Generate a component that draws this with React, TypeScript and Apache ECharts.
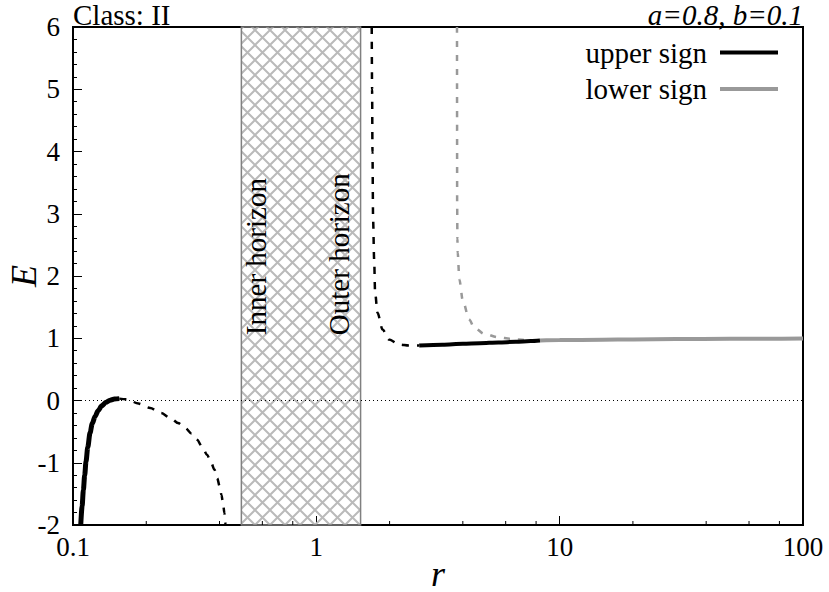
import React, { useEffect, useRef } from 'react';
import * as echarts from 'echarts';

const FONT = 'Liberation Serif';

// axis ranges and tick values
const xMin = 0.1;
const xMax = 100;
const yMin = -2;
const yMax = 6;
const xMinorTicks = [0.2, 0.4, 0.6, 0.8, 2, 4, 6, 8, 20, 40, 60, 80];

// upper sign, left branch (solid)
const upperLeftSolid: [number, number][] = [
  [0.1076, -2.0], [0.109, -1.7], [0.1103, -1.44], [0.1117, -1.2], [0.1131, -0.98],
  [0.115, -0.75], [0.1175, -0.52], [0.12, -0.37], [0.1232, -0.256], [0.127, -0.16],
  [0.1313, -0.084], [0.1365, -0.03], [0.142, 0.005], [0.148, 0.025], [0.155, 0.03],
];
// upper sign, left branch (dashed)
const upperLeftDashed: [number, number][] = [
  [0.155, 0.03], [0.1664, 0.02], [0.1858, -0.05], [0.2075, -0.12], [0.23, -0.2],
  [0.2511, -0.28], [0.27, -0.36], [0.2894, -0.44], [0.307, -0.53], [0.3234, -0.63],
  [0.34, -0.75], [0.3555, -0.87], [0.369, -0.99], [0.3811, -1.11], [0.3915, -1.25],
  [0.4006, -1.38], [0.4075, -1.52], [0.4136, -1.65], [0.419, -1.81], [0.4228, -1.97],
  [0.424, -2.0],
];
// upper sign, right branch (dashed)
const upperRightDashed: [number, number][] = [
  [1.689, 6.0], [1.695, 5.0], [1.701, 3.985], [1.711, 2.911], [1.728, 2.267],
  [1.744, 1.73], [1.784, 1.41], [1.871, 1.14], [1.991, 0.979], [2.189, 0.899],
  [2.407, 0.882], [2.647, 0.882],
];
// upper sign, right branch (solid)
const upperRightSolid: [number, number][] = [
  [2.647, 0.882], [3.3, 0.897], [4.0, 0.91], [4.7, 0.92], [5.6, 0.932],
  [6.6, 0.943], [7.6, 0.954], [8.3, 0.962],
];
// lower sign (dashed)
const lowerDashed: [number, number][] = [
  [3.785, 6.0], [3.788, 4.5], [3.79, 3.2], [3.8, 2.6], [3.81, 2.375], [3.87, 1.945],
  [4.0, 1.6], [4.25, 1.3], [4.46, 1.168], [4.9, 1.071], [5.57, 1.016], [6.32, 0.99],
  [7.29, 0.97], [8.3, 0.963],
];
// lower sign (solid)
const lowerSolid: [number, number][] = [
  [8.3, 0.963], [10, 0.97], [15, 0.977], [20, 0.981], [30, 0.986], [50, 0.991],
  [70, 0.993], [100, 0.995],
];

// horizon band and labels
const horizonBand: [number, number][] = [[0.492, 1.52]];
const horizonLabelText = ['Inner horizon', 'Outer horizon'];
const horizonLabelPos: [number, number][] = [[0.5675, 1.05], [1.241, 1.05]];

const HATCH =
  "data:image/svg+xml;utf8,<svg xmlns='http://www.w3.org/2000/svg' width='15' height='15'>" +
  "<path d='M0 0L15 15M15 0L0 15' stroke='%23bababa' stroke-width='2' fill='none'/></svg>";

export default function App() {
  const ref = useRef<HTMLDivElement>(null);

  useEffect(() => {
    if (!ref.current) return;
    const chart = echarts.init(ref.current, null, { renderer: 'svg' });

    const lineBase = {
      type: 'line' as const,
      symbol: 'none',
      showSymbol: false,
      smooth: 0.3,
      smoothMonotone: 'x' as const,
      silent: true,
      z: 3,
    };

    chart.setOption({
      animation: false,
      textStyle: { fontFamily: FONT, color: '#000' },
      title: [
        {
          text: 'Class: II',
          left: 73,
          top: 0,
          padding: 0,
          textStyle: { fontFamily: FONT, fontSize: 29, fontWeight: 'normal', color: '#000' },
        },
        {
          text: 'a=0.8, b=0.1',
          right: 26,
          top: 0,
          padding: 0,
          textStyle: { fontFamily: FONT, fontSize: 29, fontStyle: 'italic', fontWeight: 'normal', color: '#000' },
        },
      ],
      legend: {
        data: ['upper sign', 'lower sign'],
        orient: 'vertical',
        align: 'right',
        right: 51,
        top: 38,
        padding: 0,
        itemGap: 7.5,
        itemWidth: 58,
        itemHeight: 4,
        icon: 'rect',
        selectedMode: false,
        textStyle: { fontFamily: FONT, fontSize: 29, color: '#000', padding: [0, 8, 0, 0] },
      },
      grid: {
        left: 73,
        right: 26,
        top: 27,
        bottom: 67,
        show: true,
        borderColor: '#000',
        borderWidth: 2,
        backgroundColor: 'transparent',
        containLabel: false,
        outerBoundsMode: 'none',
      },
      xAxis: {
        type: 'log',
        logBase: 10,
        min: xMin,
        max: xMax,
        name: 'r',
        nameLocation: 'middle',
        nameGap: 36,
        nameMoveOverlap: false,
        nameTextStyle: { fontFamily: FONT, fontSize: 36, lineHeight: 26, fontStyle: 'italic', color: '#000' },
        axisLine: { show: true, onZero: false, lineStyle: { color: '#000', width: 1.5 } },
        axisTick: { show: true, inside: true, length: 9, lineStyle: { color: '#000', width: 1 } },
        splitLine: { show: false },
        axisLabel: { fontFamily: FONT, fontSize: 27, color: '#000', margin: 8 },
      },
      yAxis: {
        type: 'value',
        min: yMin,
        max: yMax,
        interval: 1,
        name: 'E',
        nameLocation: 'middle',
        nameGap: 34,
        nameMoveOverlap: false,
        nameTextStyle: { fontFamily: FONT, fontSize: 36, lineHeight: 30, fontStyle: 'italic', color: '#000' },
        axisLine: { show: true, onZero: false, lineStyle: { color: '#000', width: 1.5 } },
        axisTick: { show: true, inside: true, length: 9, lineStyle: { color: '#000', width: 1 } },
        minorTick: { show: true, splitNumber: 5, length: 4, lineStyle: { color: '#000', width: 1 } },
        splitLine: { show: false },
        minorSplitLine: { show: false },
        axisLabel: { fontFamily: FONT, fontSize: 27, color: '#000', margin: 13 },
      },
      series: [
        {
          type: 'custom',
          name: 'horizon band',
          silent: true,
          z: 1,
          data: horizonBand,
          renderItem: (params: any, api: any) => {
            const p0 = api.coord([api.value(0), yMax]);
            const p1 = api.coord([api.value(1), yMin]);
            return {
              type: 'rect',
              shape: { x: p0[0], y: p0[1], width: p1[0] - p0[0], height: p1[1] - p0[1] },
              style: {
                fill: { image: HATCH, repeat: 'repeat', imageWidth: 15, imageHeight: 15 },
                stroke: '#808080',
                lineWidth: 1.5,
              },
            };
          },
        },
        {
          type: 'custom',
          name: 'horizon labels',
          silent: true,
          z: 2,
          data: horizonLabelPos,
          renderItem: (params: any, api: any) => {
            const p = api.coord([api.value(0), api.value(1)]);
            return {
              type: 'text',
              x: p[0],
              y: p[1],
              rotation: Math.PI / 2,
              style: {
                text: horizonLabelText[params.dataIndex],
                fill: '#000',
                fontFamily: FONT,
                fontSize: 29,
                align: 'left',
                verticalAlign: 'middle',
              },
            };
          },
        },
        {
          type: 'custom',
          name: 'minor x ticks',
          silent: true,
          z: 5,
          data: xMinorTicks.map((v) => [v, yMin]),
          renderItem: (params: any, api: any) => {
            const p = api.coord([api.value(0), api.value(1)]);
            return {
              type: 'line',
              shape: { x1: p[0], y1: p[1], x2: p[0], y2: p[1] - 4 },
              style: { stroke: '#000', lineWidth: 1 },
            };
          },
        },
        {
          ...lineBase,
          name: 'zero',
          data: [],
          markLine: {
            silent: true,
            symbol: 'none',
            label: { show: false },
            lineStyle: { type: [1, 3], color: '#000', width: 1 },
            data: [{ yAxis: 0 }],
          },
        },
        {
          ...lineBase,
          name: 'upper sign (dashed left)',
          data: upperLeftDashed,
          color: '#000',
          lineStyle: { color: '#000', width: 2.5, type: [7, 8] },
        },
        {
          ...lineBase,
          name: 'upper sign (dashed right)',
          data: upperRightDashed,
          color: '#000',
          lineStyle: { color: '#000', width: 2.5, type: [7, 8] },
        },
        {
          ...lineBase,
          name: 'lower sign (dashed)',
          data: lowerDashed,
          color: '#999',
          lineStyle: { color: '#999', width: 2.5, type: [6, 8] },
        },
        {
          ...lineBase,
          name: 'upper sign',
          data: upperLeftSolid,
          color: '#000',
          lineStyle: { color: '#000', width: 5 },
        },
        {
          ...lineBase,
          name: 'upper sign',
          data: upperRightSolid,
          color: '#000',
          lineStyle: { color: '#000', width: 4 },
        },
        {
          ...lineBase,
          name: 'lower sign',
          data: lowerSolid,
          color: '#999',
          lineStyle: { color: '#999', width: 4 },
        },
      ],
    });

    return () => chart.dispose();
  }, []);

  return (
    <div
      ref={ref}
      style={{ position: 'fixed', left: 0, top: 0, width: 829, height: 592, background: '#fff' }}
    />
  );
}
